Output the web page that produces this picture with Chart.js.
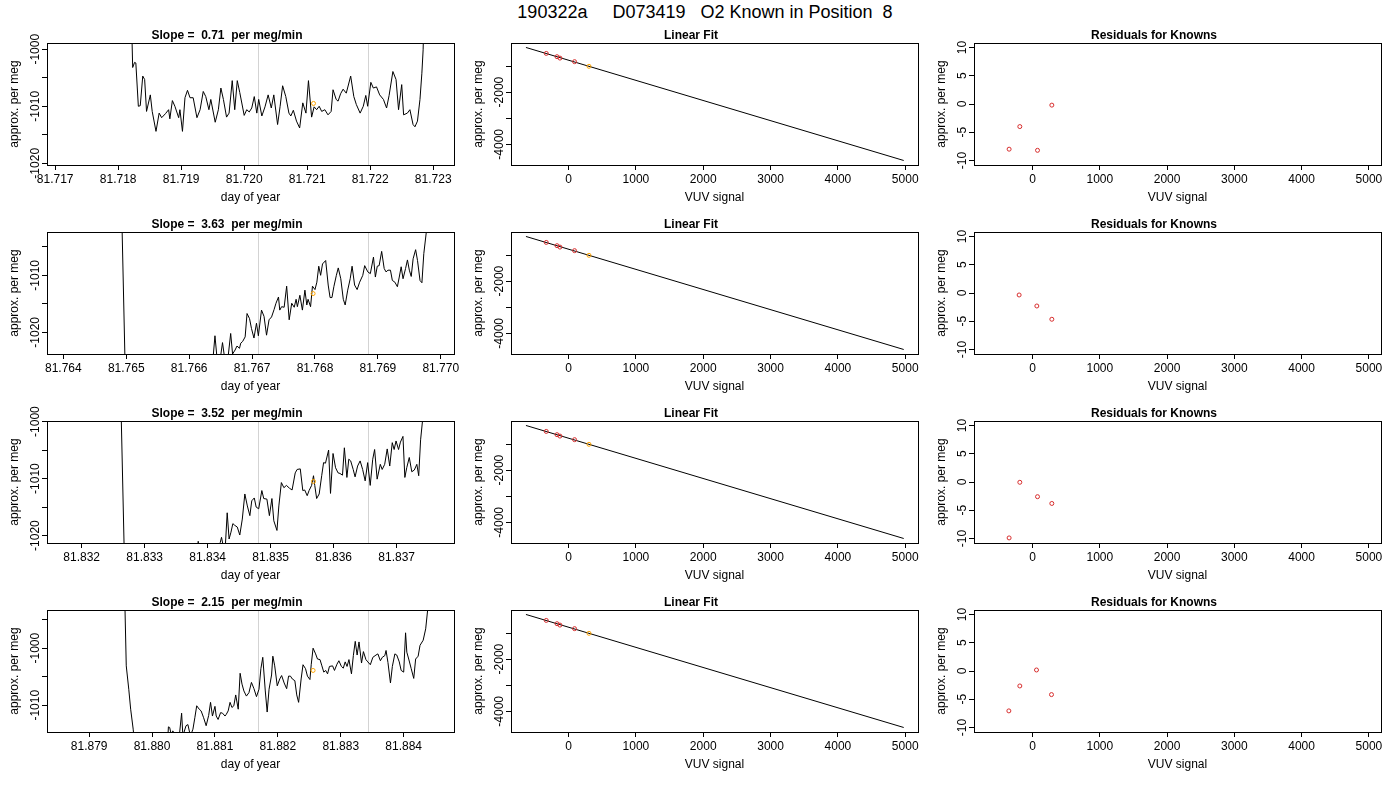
<!DOCTYPE html>
<html>
<head>
<meta charset="utf-8">
<script src="https://cdn.jsdelivr.net/npm/chart.js@4.4.1/dist/chart.umd.min.js"></script>
<style>
  body { margin: 0; background: #fff; width: 1400px; height: 800px; position: relative; overflow: hidden;
         font-family: "Liberation Sans", Arial, Helvetica, sans-serif; }
  #runTitle { position: absolute; top: 0; left: 0; width: 1410px; text-align: center; font-size: 18px;
              line-height: 24px; white-space: pre; color: #000; }
  .panel { position: absolute; }
</style>
</head>
<body>
<div id="runTitle"></div>
<script>
// ---- data ----
const runTitle = "190322a     D073419   O2 Known in Position  8";
const slopes = ["0.71", "3.63", "3.52", "2.15"];

// time series (day of year / approx. per meg), one pair per known
const time1 = [
  81.71819, 81.71823, 81.71826, 81.71828, 81.71832, 81.71835, 81.71839, 81.71842, 81.71845, 81.71851,
  81.71854, 81.71860, 81.71865, 81.71869, 81.71875, 81.71880, 81.71882, 81.71886, 81.71890, 81.71896,
  81.71898, 81.71902, 81.71906, 81.71910, 81.71914, 81.71919, 81.71925, 81.71930, 81.71935, 81.71939,
  81.71944, 81.71947, 81.71954, 81.71959, 81.71963, 81.71967, 81.71972, 81.71976, 81.71981, 81.71985,
  81.71989, 81.71993, 81.72000, 81.72004, 81.72008, 81.72012, 81.72016, 81.72020, 81.72023, 81.72028,
  81.72033, 81.72038, 81.72043, 81.72047, 81.72053, 81.72057, 81.72061, 81.72066, 81.72071, 81.72074,
  81.72078, 81.72083, 81.72088, 81.72093, 81.72098, 81.72102, 81.72107, 81.72111, 81.72115, 81.72119,
  81.72123, 81.72128, 81.72133, 81.72138, 81.72141, 81.72146, 81.72149, 81.72153, 81.72157, 81.72162,
  81.72169, 81.72174, 81.72178, 81.72184, 81.72189, 81.72193, 81.72196, 81.72201, 81.72205, 81.72210,
  81.72215, 81.72221, 81.72226, 81.72230, 81.72236, 81.72241, 81.72245, 81.72250, 81.72253, 81.72259,
  81.72263, 81.72268, 81.72271, 81.72275, 81.72279, 81.72282, 81.72284, 81.72287
];
const perMeg1 = [
  -985, -1003.2, -1002.3, -1002.4, -1010.0, -1009.9, -1004.7, -1005.3, -1010.9, -1008.0,
  -1010.9, -1014.4, -1011.2, -1012.0, -1011.3, -1010.6, -1012.2, -1009.0, -1010.0, -1012.0,
  -1010.6, -1014.4, -1008.5, -1007.2, -1008.5, -1008.5, -1012.0, -1010.6, -1007.4, -1008.3,
  -1010.6, -1008.8, -1012.8, -1010.6, -1006.8, -1008.8, -1011.9, -1011.2, -1005.5, -1010.6,
  -1005.5, -1007.6, -1011.6, -1010.6, -1011.0, -1010.3, -1008.3, -1011.2, -1008.8, -1011.7,
  -1010.1, -1008.0, -1010.3, -1008.0, -1013.2, -1010.0, -1006.4, -1008.3, -1011.2, -1011.7,
  -1010.7, -1012.6, -1013.8, -1009.4, -1011.2, -1005.5, -1011.9, -1010.1, -1010.6, -1010.0,
  -1010.9, -1010.6, -1011.5, -1010.9, -1007.1, -1008.8, -1009.1, -1007.8, -1007.0, -1007.7,
  -1004.7, -1008.3, -1009.7, -1011.2, -1010.0, -1008.1, -1010.0, -1005.8, -1006.8, -1006.6,
  -1008.0, -1008.8, -1010.3, -1008.1, -1003.9, -1005.3, -1010.6, -1006.2, -1011.5, -1011.2,
  -1010.6, -1013.2, -1013.6, -1012.6, -1008.8, -1004.2, -1000.1, -985
];

const time2 = [
  81.76491, 81.76500, 81.76564, 81.76617, 81.76638, 81.76641, 81.76644, 81.76650, 81.76653, 81.76656,
  81.76662, 81.76666, 81.76669, 81.76673, 81.76676, 81.76680, 81.76682, 81.76685, 81.76689, 81.76692,
  81.76696, 81.76699, 81.76703, 81.76707, 81.76710, 81.76715, 81.76719, 81.76723, 81.76727, 81.76731,
  81.76735, 81.76738, 81.76742, 81.76744, 81.76747, 81.76751, 81.76755, 81.76759, 81.76763, 81.76767,
  81.76770, 81.76772, 81.76776, 81.76780, 81.76784, 81.76787, 81.76789, 81.76793, 81.76796, 81.76800,
  81.76803, 81.76806, 81.76809, 81.76812, 81.76817, 81.76821, 81.76824, 81.76827, 81.76830, 81.76834,
  81.76837, 81.76841, 81.76845, 81.76848, 81.76852, 81.76856, 81.76859, 81.76863, 81.76867, 81.76871,
  81.76876, 81.76879, 81.76884, 81.76888, 81.76893, 81.76896, 81.76899, 81.76902, 81.76906, 81.76910,
  81.76913, 81.76916, 81.76920, 81.76923, 81.76927, 81.76931, 81.76934, 81.76937, 81.76940, 81.76944,
  81.76947, 81.76950, 81.76953, 81.76956, 81.76960, 81.76963, 81.76967, 81.76970, 81.76973, 81.76977,
  81.76981
];
const perMeg2 = [
  -990, -1035, -1035, -1030, -1024.5, -1020.6, -1024.2, -1024.2, -1021.8, -1024.2,
  -1024.2, -1020.2, -1023.8, -1023.1, -1022.4, -1022.8, -1021.9, -1021.6, -1020.8, -1016.7,
  -1017.6, -1019.3, -1021.0, -1018.4, -1020.6, -1016.1, -1017.2, -1020.5, -1017.8, -1017.3,
  -1016.0, -1014.9, -1013.8, -1016.1, -1015.5, -1015.6, -1011.9, -1017.8, -1014.9, -1015.6,
  -1014.2, -1015.5, -1013.5, -1016.1, -1012.6, -1015.2, -1014.2, -1015.5, -1011.9, -1012.5,
  -1011.2, -1008.4, -1010.0, -1008.0, -1007.4, -1011.7, -1013.9, -1013.9, -1012.0, -1010.0,
  -1008.7, -1010.6, -1014.2, -1015.2, -1012.6, -1010.6, -1008.4, -1011.7, -1012.5, -1011.2,
  -1010.0, -1008.3, -1009.4, -1009.7, -1006.8, -1010.3, -1008.4, -1008.3, -1005.8, -1008.8,
  -1009.4, -1009.1, -1009.1, -1010.9, -1011.2, -1012.0, -1010.3, -1008.5, -1010.6, -1008.8,
  -1007.3, -1009.1, -1010.2, -1007.1, -1005.5, -1007.4, -1010.9, -1011.3, -1006.2, -1002.4,
  -990
];

const time3 = [
  81.83261, 81.83270, 81.83335, 81.83383, 81.83385, 81.83388, 81.83417, 81.83420, 81.83422, 81.83425,
  81.83428, 81.83431, 81.83434, 81.83437, 81.83440, 81.83443, 81.83447, 81.83451, 81.83455, 81.83459,
  81.83463, 81.83467, 81.83470, 81.83474, 81.83477, 81.83481, 81.83486, 81.83489, 81.83494, 81.83498,
  81.83502, 81.83505, 81.83510, 81.83513, 81.83517, 81.83521, 81.83525, 81.83530, 81.83534, 81.83539,
  81.83542, 81.83547, 81.83551, 81.83554, 81.83558, 81.83561, 81.83565, 81.83568, 81.83570, 81.83573,
  81.83577, 81.83581, 81.83584, 81.83587, 81.83592, 81.83595, 81.83599, 81.83603, 81.83607, 81.83610,
  81.83614, 81.83617, 81.83621, 81.83624, 81.83627, 81.83631, 81.83634, 81.83638, 81.83642, 81.83646,
  81.83650, 81.83654, 81.83658, 81.83662, 81.83665, 81.83669, 81.83674, 81.83677, 81.83681, 81.83685,
  81.83689, 81.83693, 81.83696, 81.83699, 81.83703, 81.83706, 81.83710, 81.83713, 81.83716, 81.83720,
  81.83724, 81.83728, 81.83732, 81.83735, 81.83738, 81.83741, 81.83744
];
const perMeg3 = [
  -990, -1035, -1030, -1025, -1021.0, -1025, -1025, -1021.2, -1020.3, -1022.0,
  -1022.0, -1016.0, -1020.6, -1019.4, -1017.9, -1018.2, -1018.5, -1019.9, -1017.1, -1012.7,
  -1014.8, -1016.5, -1013.9, -1013.4, -1015.0, -1015.3, -1012.1, -1013.5, -1013.6, -1016.5,
  -1013.5, -1017.4, -1019.1, -1014.8, -1010.7, -1011.6, -1011.2, -1011.7, -1012.0, -1009.0,
  -1008.4, -1008.3, -1012.1, -1012.0, -1013.0, -1012.1, -1011.2, -1009.5, -1011.2, -1013.5,
  -1012.7, -1009.5, -1007.2, -1007.3, -1005.0, -1012.6, -1005.6, -1008.1, -1009.0, -1009.1,
  -1009.4, -1004.6, -1009.8, -1006.6, -1006.9, -1008.4, -1009.7, -1007.8, -1006.9, -1008.4,
  -1010.4, -1007.2, -1011.2, -1006.6, -1004.9, -1010.1, -1007.5, -1008.4, -1007.5, -1004.8,
  -1007.8, -1003.7, -1004.9, -1003.4, -1004.9, -1003.6, -1002.6, -1009.8, -1008.1, -1006.3,
  -1008.8, -1008.5, -1007.5, -1009.5, -1003.2, -999.9, -990
];

const time4 = [
  81.87955, 81.87957, 81.87959, 81.87963, 81.87966, 81.87970, 81.87973, 81.87996, 81.88023, 81.88026,
  81.88028, 81.88031, 81.88033, 81.88039, 81.88043, 81.88047, 81.88049, 81.88054, 81.88057, 81.88061,
  81.88065, 81.88068, 81.88071, 81.88075, 81.88078, 81.88082, 81.88086, 81.88090, 81.88093, 81.88096,
  81.88100, 81.88102, 81.88105, 81.88109, 81.88112, 81.88116, 81.88118, 81.88121, 81.88124, 81.88127,
  81.88130, 81.88133, 81.88137, 81.88140, 81.88143, 81.88146, 81.88150, 81.88154, 81.88158, 81.88162,
  81.88166, 81.88170, 81.88173, 81.88176, 81.88180, 81.88183, 81.88186, 81.88190, 81.88192, 81.88195,
  81.88199, 81.88203, 81.88206, 81.88210, 81.88214, 81.88217, 81.88220, 81.88223, 81.88227, 81.88230,
  81.88233, 81.88237, 81.88240, 81.88244, 81.88247, 81.88251, 81.88253, 81.88256, 81.88260, 81.88263,
  81.88267, 81.88270, 81.88273, 81.88276, 81.88279, 81.88282, 81.88287, 81.88290, 81.88294, 81.88297,
  81.88301, 81.88304, 81.88307, 81.88310, 81.88313, 81.88317, 81.88320, 81.88323, 81.88326, 81.88329,
  81.88333, 81.88336, 81.88340, 81.88343, 81.88347, 81.88351, 81.88356, 81.88359, 81.88363, 81.88366,
  81.88370, 81.88372, 81.88375, 81.88379, 81.88382, 81.88386, 81.88389, 81.88393, 81.88396, 81.88400,
  81.88403, 81.88405, 81.88408, 81.88412, 81.88416, 81.88419, 81.88423, 81.88426, 81.88431, 81.88435,
  81.88438, 81.88440
];
const perMeg4 = [
  -985, -993.2, -1003.1, -1007.2, -1010.7, -1014.2, -1017.8, -1022, -1020, -1013.8,
  -1013.9, -1015.4, -1014.5, -1015.7, -1015.7, -1011.4, -1015.4, -1013.6, -1013.4, -1015.4,
  -1014.2, -1012.2, -1010.1, -1010.7, -1011.0, -1012.2, -1013.6, -1011.8, -1009.5, -1011.9,
  -1010.2, -1011.9, -1012.5, -1011.3, -1011.4, -1011.9, -1011.6, -1011.0, -1009.5, -1010.4,
  -1010.1, -1008.2, -1010.7, -1004.4, -1006.3, -1007.5, -1008.4, -1007.8, -1006.0, -1007.1,
  -1008.5, -1007.2, -1003.6, -1001.6, -1007.5, -1011.2, -1007.2, -1004.7, -1001.4, -1003.1,
  -1006.6, -1005.4, -1004.8, -1006.1, -1007.1, -1004.9, -1004.9, -1005.4, -1005.7, -1008.2,
  -1009.5, -1005.4, -1002.9, -1003.6, -1004.9, -1005.5, -1002.9, -1000.0, -1001.0, -1001.9,
  -1002.0, -1003.1, -1004.2, -1003.9, -1004.5, -1003.2, -1003.1, -1003.9, -1002.8, -1002.2,
  -1003.2, -1003.5, -1002.4, -1003.2, -1002.0, -1004.5, -1001.3, -998.8, -1001.2, -998.9,
  -1002.6, -1000.6, -1002.0, -1002.4, -1002.9, -1001.6, -1001.2, -1001.0, -1002.2, -1001.6,
  -1001.3, -1000.4, -1002.5, -1006.1, -1003.2, -1001.0, -1001.2, -1002.4, -1003.9, -1004.2,
  -997.3, -1000.7, -1001.9, -1003.6, -1005.3, -1001.9, -1001.4, -999.5, -998.6, -996.6,
  -993.4, -987.2
];

// integration window marks (grey verticals) and the orange sample point
const gates1 = [81.72022, 81.72197];
const gates2 = [81.76710, 81.76885];
const gates3 = [81.83480, 81.83655];
const gates4 = [81.88169, 81.88343];
const sampleTime = [81.72110, 81.76797, 81.83568, 81.88256];
const samplePerMeg = [-1009.5, -1013.2, -1010.5, -1003.9];

// axis ranges and ticks of the time panels
const timeMin = [81.71687, 81.76374, 81.83145, 81.87833];
const timeMax = [81.72333, 81.77021, 81.83791, 81.88480];
const perMegMin = [-1020.3, -1023.8, -1021.3, -1014.7];
const perMegMax = [-998.9, -1002.4, -999.9, -993.3];
const timeTicks1 = [81.717, 81.718, 81.719, 81.720, 81.721, 81.722, 81.723];
const timeTicks2 = [81.764, 81.765, 81.766, 81.767, 81.768, 81.769, 81.770];
const timeTicks3 = [81.832, 81.833, 81.834, 81.835, 81.836, 81.837];
const timeTicks4 = [81.879, 81.880, 81.881, 81.882, 81.883, 81.884];
const perMegTicks1 = [-1020, -1015, -1010, -1005, -1000];
const perMegTicks2 = [-1020, -1015, -1010, -1005];
const perMegTicks3 = [-1020, -1015, -1010, -1005, -1000];
const perMegTicks4 = [-1010, -1005, -1000, -995];

// linear fit (same in every row)
const fitLineVuv = [-633, 4978];
const fitLinePerMeg = [-289, -4620];
const knownVuv = [-331, -172, -128, 89];
const knownPerMeg = [-517, -643, -696, -833];
const sampleVuv = [303];
const sampleFitPerMeg = [-1011];
const vuvTicks = [0, 1000, 2000, 3000, 4000, 5000];
const fitTicks = [-4000, -3000, -2000, -1000];

// residuals for knowns
const residVuv1 = [-348, -189, 74, 287];
const residVal1 = [-8.0, -4.0, -8.2, -0.2];
const residVuv2 = [-199, 64, 287];
const residVal2 = [-0.35, -2.3, -4.65];
const residVuv3 = [-348, -189, 74, 287];
const residVal3 = [-9.9, -0.05, -2.6, -3.8];
const residVuv4 = [-352, -189, 59, 282];
const residVal4 = [-7.06, -2.65, 0.18, -4.18];
const residTicks = [-10, -5, 0, 5, 10];

// ---- layout ----
const FONT = "'Liberation Sans', Arial, Helvetica, sans-serif";
const colLeft = [47, 511, 974];
const rowTop = [43, 232, 421, 610];
const BOX_W = 407, BOX_H = 122;
const AX_L = 47, AX_B = 41, HEAD = 28;
const RED = "rgb(215,45,45)";
const ORANGE = "#FFA500";

document.getElementById("runTitle").textContent = runTitle;

// box around the plot region, like R's bty="o"
const framePlugin = {
  id: "frame",
  afterDatasetsDraw(chart) {
    const a = chart.chartArea, ctx = chart.ctx;
    ctx.save();
    ctx.strokeStyle = "#000";
    ctx.lineWidth = 1;
    ctx.strokeRect(a.left + 0.5, a.top + 0.5, a.right - a.left, a.bottom - a.top);
    ctx.restore();
  }
};

function gatePlugin(values) {
  return {
    id: "gates",
    beforeDatasetsDraw(chart) {
      const { ctx, chartArea: a } = chart;
      const x = chart.scales.x;
      ctx.save();
      ctx.strokeStyle = "#d3d3d3";
      ctx.lineWidth = 1;
      values.forEach(v => {
        const px = Math.round(x.getPixelForValue(v)) + 0.5;
        ctx.beginPath();
        ctx.moveTo(px, a.top);
        ctx.lineTo(px, a.bottom);
        ctx.stroke();
      });
      ctx.restore();
    }
  };
}

const tickGrid = { display: true, drawOnChartArea: false, drawTicks: true, tickLength: 5, color: "#000", tickColor: "#000", lineWidth: 1 };

function xScale(min, max, ticks, title, fmt) {
  return {
    type: "linear", min, max,
    afterBuildTicks: s => { s.ticks = ticks.map(v => ({ value: v })); },
    afterFit: s => { s.height = AX_B; },
    grid: tickGrid,
    border: { display: false },
    ticks: { autoSkip: false, maxRotation: 0, minRotation: 0, padding: 2, color: "#000",
             font: { family: FONT, size: 12 }, callback: fmt },
    title: { display: true, text: title, color: "#000", font: { family: FONT, size: 12 },
             padding: { top: 0, bottom: 1 } }
  };
}

function yScale(min, max, ticks, fmt, pad) {
  return {
    type: "linear", min, max,
    afterBuildTicks: s => { s.ticks = ticks.map(v => ({ value: v })); },
    afterFit: s => { s.width = AX_L; },
    grid: tickGrid,
    border: { display: false },
    ticks: { autoSkip: false, minRotation: 90, maxRotation: 90, crossAlign: "center", padding: pad,
             color: "#000", font: { family: FONT, size: 12 }, callback: fmt },
    title: { display: true, text: "approx. per meg", color: "#000", font: { family: FONT, size: 12 },
             padding: { top: 7, bottom: 0 } }
  };
}

function makePanel(col, row, title, datasets, scales, extra) {
  const holder = document.createElement("div");
  holder.className = "panel";
  holder.style.left = (colLeft[col] - AX_L) + "px";
  holder.style.top = (rowTop[row] - HEAD) + "px";
  holder.style.width = (BOX_W + 2 * AX_L) + "px";
  holder.style.height = (BOX_H + HEAD + AX_B) + "px";
  const canvas = document.createElement("canvas");
  holder.appendChild(canvas);
  document.body.appendChild(holder);
  return new Chart(canvas, {
    type: "scatter",
    data: { datasets },
    options: {
      responsive: true,
      maintainAspectRatio: false,
      animation: false,
      events: [],
      layout: { padding: { left: 0, right: AX_L, top: 0, bottom: 0 } },
      plugins: {
        legend: { display: false },
        tooltip: { enabled: false },
        title: { display: true, text: title, color: "#000",
                 font: { family: FONT, size: 12, weight: "bold" },
                 padding: { top: 13, bottom: 0.6 } }
      },
      scales
    },
    plugins: [framePlugin].concat(extra || [])
  });
}

const pts = (xs, ys) => xs.map((v, i) => ({ x: v, y: ys[i] }));
const circles = (data, color) => ({
  data, pointRadius: 2, pointStyle: "circle", borderColor: color,
  backgroundColor: "rgba(0,0,0,0)", borderWidth: 1
});

const times = [time1, time2, time3, time4];
const perMegs = [perMeg1, perMeg2, perMeg3, perMeg4];
const gates = [gates1, gates2, gates3, gates4];
const timeTicks = [timeTicks1, timeTicks2, timeTicks3, timeTicks4];
const perMegTicks = [perMegTicks1, perMegTicks2, perMegTicks3, perMegTicks4];
const residVuv = [residVuv1, residVuv2, residVuv3, residVuv4];
const residVal = [residVal1, residVal2, residVal3, residVal4];

for (let r = 0; r < 4; r++) {
  // column 1: per meg against time
  makePanel(0, r, "Slope =  " + slopes[r] + "  per meg/min", [
    circles([{ x: sampleTime[r], y: samplePerMeg[r] }], ORANGE),
    { data: pts(times[r], perMegs[r]), showLine: true, borderColor: "#000", borderWidth: 1,
      pointRadius: 0, tension: 0 }
  ], {
    x: xScale(timeMin[r], timeMax[r], timeTicks[r], "day of year", v => v.toFixed(3)),
    y: yScale(perMegMin[r], perMegMax[r], perMegTicks[r], v => (v % 10 === 0 ? String(v) : ""), -8.85)
  }, [gatePlugin(gates[r])]);

  // column 2: linear fit
  makePanel(1, r, "Linear Fit", [
    circles(pts(sampleVuv, sampleFitPerMeg), ORANGE),
    circles(pts(knownVuv, knownPerMeg), RED),
    { data: pts(fitLineVuv, fitLinePerMeg), showLine: true, borderColor: "#000", borderWidth: 1,
      pointRadius: 0, tension: 0 }
  ], {
    x: xScale(-855, 5190, vuvTicks, "VUV signal", v => String(v)),
    y: yScale(-4793, -118, fitTicks, v => (v % 2000 === 0 ? String(v) : ""), -8.85)
  });

  // column 3: residuals
  makePanel(2, r, "Residuals for Knowns", [
    circles(pts(residVuv[r], residVal[r]), RED)
  ], {
    x: xScale(-870, 5180, vuvTicks, "VUV signal", v => String(v)),
    y: yScale(-10.8, 10.8, residTicks, v => String(v), -2.2)
  });
}
</script>
</body>
</html>
